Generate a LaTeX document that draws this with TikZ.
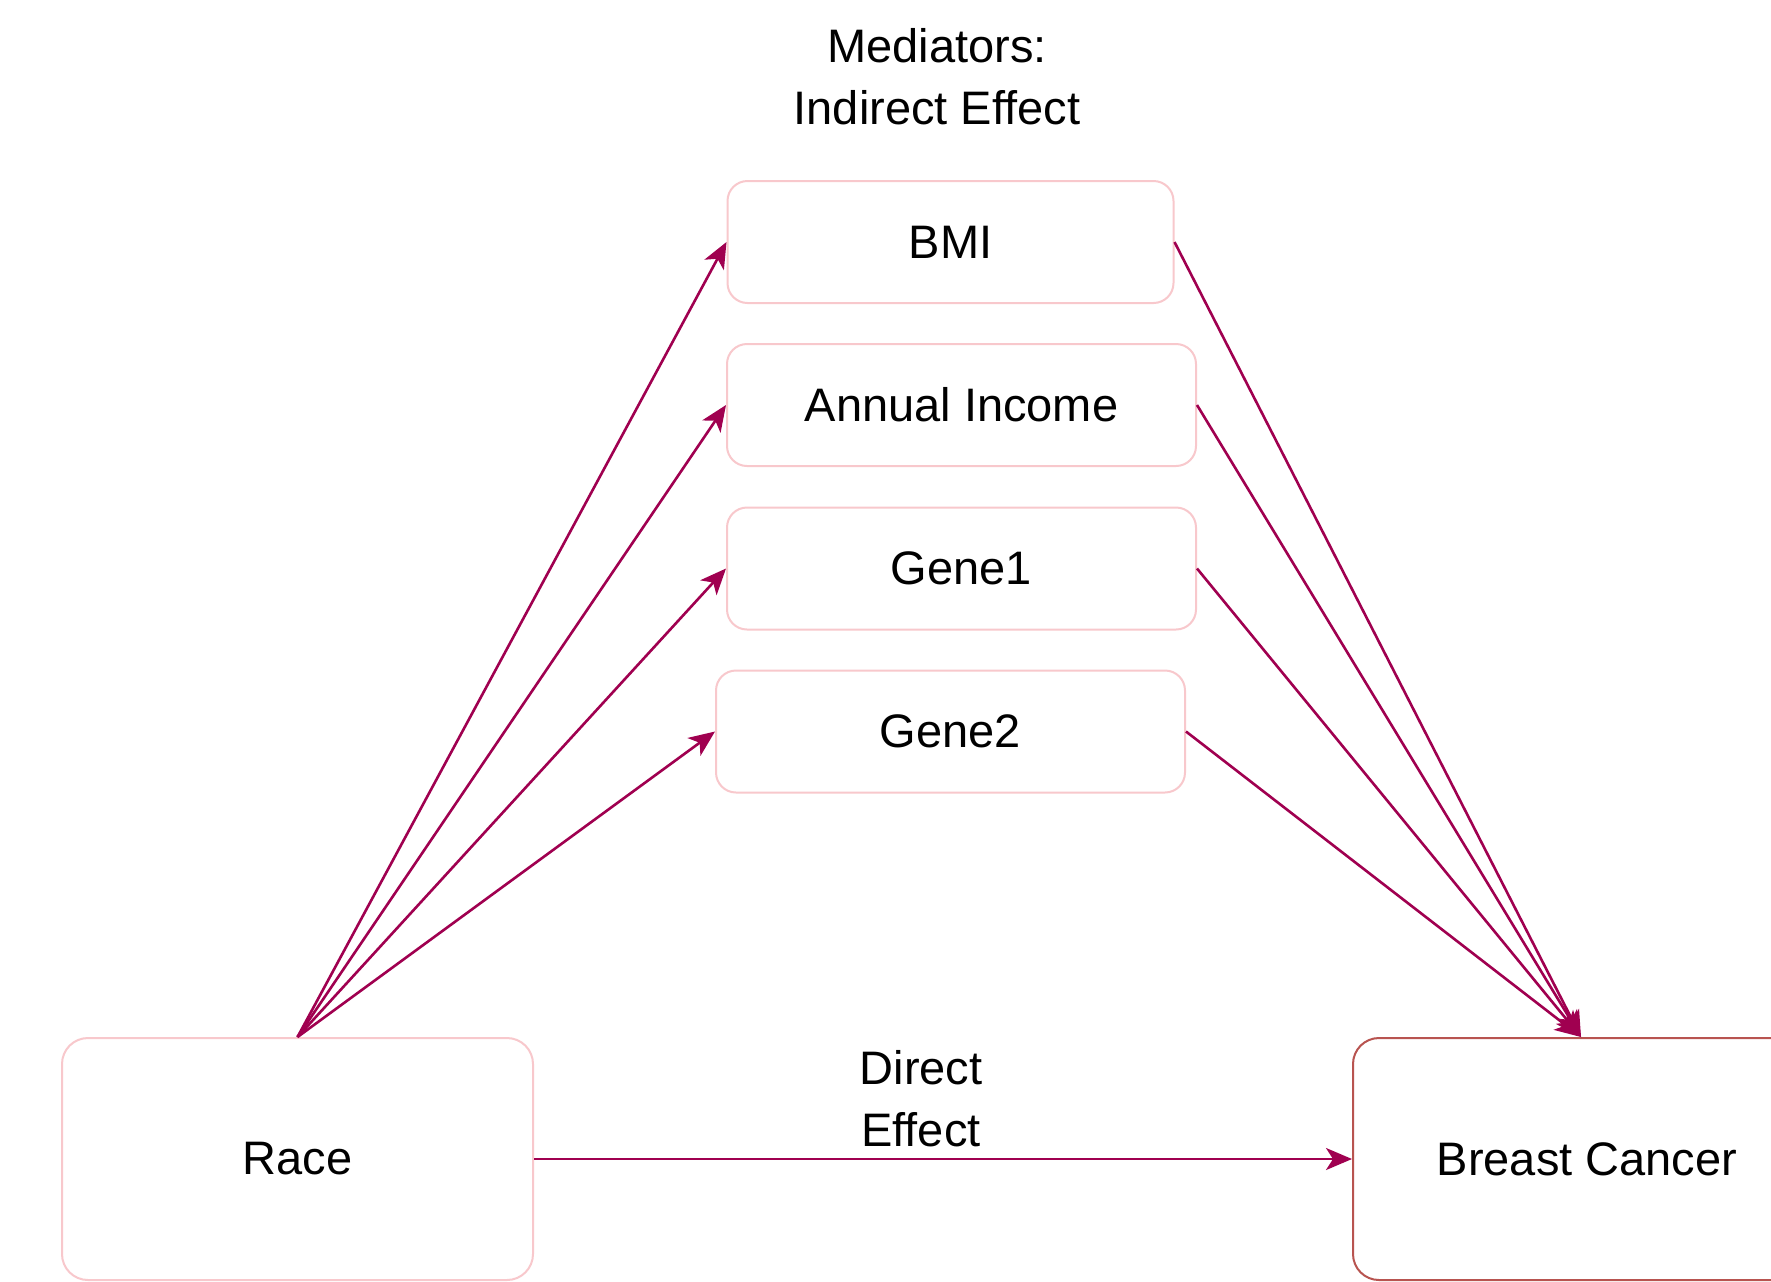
\documentclass[tikz,border=0pt]{standalone}
\usepackage{fontspec}
\setmainfont{Liberation Sans}
\usetikzlibrary{arrows.meta}
\definecolor{arr}{RGB}{160,0,80}
\definecolor{pinkb}{RGB}{248,200,204}
\definecolor{redb}{RGB}{184,84,80}
\tikzset{
  medbox/.style={draw=pinkb, line width=1pt, rounded corners=10pt, fill=white, inner sep=0pt, font=\fontsize{23.5}{28}\selectfont},
  bigbox/.style={draw=pinkb, line width=1pt, rounded corners=13pt, fill=white, inner sep=0pt, minimum width=235.5pt, minimum height=121pt, font=\fontsize{23.5}{28}\selectfont},
  conn/.style={draw=arr, line width=1.3pt, -{Stealth[length=13pt,width=11pt,inset=3.5pt]}},
  lbl/.style={align=center, inner sep=0pt, font=\fontsize{23.5}{31}\selectfont}
}
\begin{document}
\begin{tikzpicture}[x=0.5pt,y=-0.5pt]
\useasboundingbox (0,0) rectangle (1771,1281);
\clip (0,0) rectangle (1771,1281);
\fill[white] (0,0) rectangle (1771,1281);
\node[lbl] (title) at (937,77) {Mediators:\\Indirect Effect};
\node[medbox, minimum width=223pt, minimum height=61pt] (bmi) at (950.5,242) {BMI};
\node[medbox, minimum width=234.5pt, minimum height=61pt] (inc) at (961.5,405) {Annual Income};
\node[medbox, minimum width=234.5pt, minimum height=61pt] (g1) at (961.5,568.5) {Gene1};
\node[medbox, minimum width=234.5pt, minimum height=61pt] (g2) at (950.5,731.5) {Gene2};
\node[bigbox] (race) at (297.5,1159) {Race};
\node[bigbox, draw=redb, minimum width=234pt] (bc) at (1587,1159) {Breast Cancer};
\node[lbl] (direct) at (921,1099) {Direct\\Effect};
\foreach \m in {bmi,inc,g1,g2}{
  \draw[conn] (race.north) -- (\m.west);
  \draw[conn] (\m.east) -- ([xshift=-3pt]bc.north);
}
\draw[conn] (race.east) -- (bc.west);
\end{tikzpicture}
\end{document}
